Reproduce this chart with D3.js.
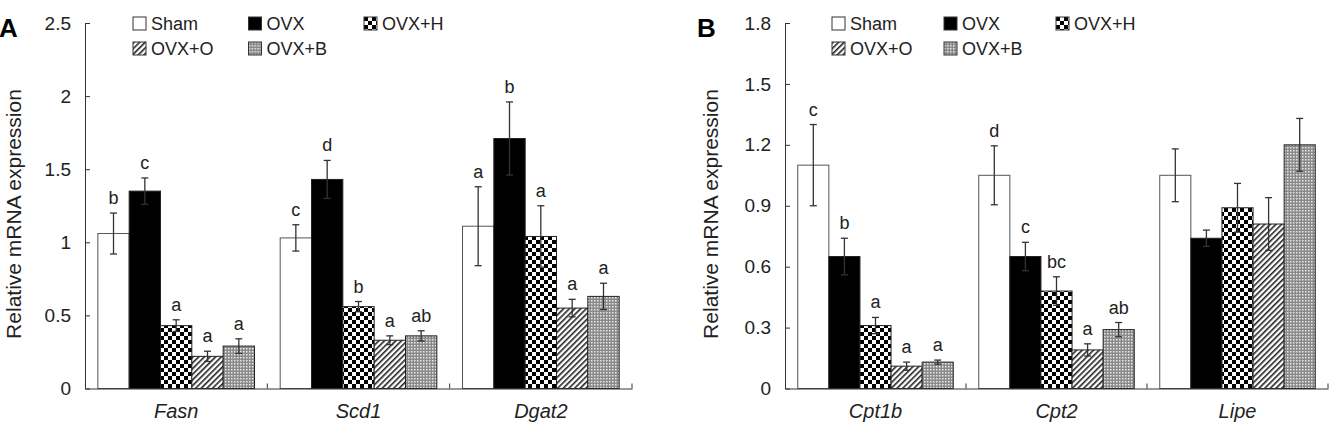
<!DOCTYPE html>
<html>
<head>
<meta charset="utf-8">
<script src="https://cdn.jsdelivr.net/npm/d3@7"></script>
<style>
  body { margin: 0; background: #fff; }
  svg { display: block; font-family: Arial, "Liberation Sans", sans-serif; }
</style>
</head>
<body>
<div id="container"></div>
<script>
// groups (legend order)
var groups = ["Sham", "OVX", "OVX+H", "OVX+O", "OVX+B"];

// panel A genes
var genesA = ["Fasn", "Scd1", "Dgat2"];
var fasnMean = [1.06, 1.35, 0.43, 0.22, 0.29];
var fasnErr = [0.14, 0.09, 0.04, 0.035, 0.05];
var fasnSig = ["b", "c", "a", "a", "a"];
var scd1Mean = [1.03, 1.43, 0.56, 0.33, 0.36];
var scd1Err = [0.09, 0.13, 0.035, 0.03, 0.035];
var scd1Sig = ["c", "d", "b", "a", "ab"];
var dgat2Mean = [1.11, 1.71, 1.04, 0.55, 0.63];
var dgat2Err = [0.27, 0.25, 0.21, 0.06, 0.09];
var dgat2Sig = ["a", "b", "a", "a", "a"];
var ticksA = [0, 0.5, 1, 1.5, 2, 2.5];
var tickLabelsA = ["0", "0.5", "1", "1.5", "2", "2.5"];

// panel B genes
var genesB = ["Cpt1b", "Cpt2", "Lipe"];
var cpt1bMean = [1.10, 0.65, 0.31, 0.11, 0.13];
var cpt1bErr = [0.20, 0.09, 0.04, 0.02, 0.01];
var cpt1bSig = ["c", "b", "a", "a", "a"];
var cpt2Mean = [1.05, 0.65, 0.48, 0.19, 0.29];
var cpt2Err = [0.145, 0.07, 0.07, 0.03, 0.035];
var cpt2Sig = ["d", "c", "bc", "a", "ab"];
var lipeMean = [1.05, 0.74, 0.89, 0.81, 1.20];
var lipeErr = [0.13, 0.04, 0.12, 0.13, 0.13];
var lipeSig = ["", "", "", "", ""];
var ticksB = [0, 0.3, 0.6, 0.9, 1.2, 1.5, 1.8];
var tickLabelsB = ["0", "0.3", "0.6", "0.9", "1.2", "1.5", "1.8"];

var ink = "#222";

var svg = d3.select("#container").append("svg")
    .attr("width", 1330)
    .attr("height", 427);

// fill patterns for the five groups
var defs = svg.append("defs");

var pChk = defs.append("pattern").attr("id", "p-chk")
    .attr("patternUnits", "userSpaceOnUse").attr("width", 8).attr("height", 8);
pChk.append("rect").attr("width", 8).attr("height", 8).attr("fill", "#fff");
pChk.append("rect").attr("width", 4).attr("height", 4).attr("fill", "#000");
pChk.append("rect").attr("x", 4).attr("y", 4).attr("width", 4).attr("height", 4).attr("fill", "#000");

var pHatch = defs.append("pattern").attr("id", "p-hatch")
    .attr("patternUnits", "userSpaceOnUse").attr("width", 4).attr("height", 4)
    .attr("patternTransform", "rotate(45)");
pHatch.append("rect").attr("width", 4).attr("height", 4).attr("fill", "#fff");
pHatch.append("rect").attr("width", 1.6).attr("height", 4).attr("fill", "#222");

var pDot = defs.append("pattern").attr("id", "p-dot")
    .attr("patternUnits", "userSpaceOnUse").attr("width", 3).attr("height", 3);
pDot.append("rect").attr("width", 3).attr("height", 3).attr("fill", "#8a8a8a");
pDot.append("rect").attr("width", 1.5).attr("height", 1.5).attr("fill", "#e8e8e8");

var fills = {
    "Sham": "#fff",
    "OVX": "#000",
    "OVX+H": "url(#p-chk)",
    "OVX+O": "url(#p-hatch)",
    "OVX+B": "url(#p-dot)"
};

function drawPanel(opt) {
    var g = svg.append("g");

    var x = d3.scaleBand().domain(opt.genes).range(opt.xRange).paddingInner(0).paddingOuter(0);
    var xIn = d3.scaleBand().domain(groups).range([0, x.bandwidth()]).paddingInner(0).paddingOuter(0.41);
    var y = d3.scaleLinear().domain([0, opt.max]).range([388.5, 23]);

    // table built from the arrays
    var rows = [];
    opt.genes.forEach(function (gene, gi) {
        groups.forEach(function (grp, k) {
            rows.push({
                gene: gene, group: grp,
                v: opt.means[gi][k], e: opt.errs[gi][k], s: opt.sigs[gi][k]
            });
        });
    });

    // bars
    g.selectAll("rect.bar").data(rows).enter().append("rect")
        .attr("class", "bar")
        .attr("x", function (d) { return x(d.gene) + xIn(d.group); })
        .attr("y", function (d) { return y(d.v); })
        .attr("width", xIn.bandwidth())
        .attr("height", function (d) { return y(0) - y(d.v); })
        .attr("fill", function (d) { return fills[d.group]; })
        .attr("stroke", function (d) { return d.group == "Sham" ? "#555" : "#222"; })
        .attr("stroke-width", 1);

    // error bars
    var eb = g.selectAll("g.err").data(rows).enter().append("g").attr("class", "err")
        .attr("stroke", "#333").attr("stroke-width", 1.3);
    var cx = function (d) { return x(d.gene) + xIn(d.group) + xIn.bandwidth() / 2; };
    eb.append("line")
        .attr("x1", cx).attr("x2", cx)
        .attr("y1", function (d) { return y(d.v - d.e); })
        .attr("y2", function (d) { return y(d.v + d.e); });
    eb.append("line")
        .attr("x1", function (d) { return cx(d) - 3.5; }).attr("x2", function (d) { return cx(d) + 3.5; })
        .attr("y1", function (d) { return y(d.v + d.e); })
        .attr("y2", function (d) { return y(d.v + d.e); });
    eb.append("line")
        .attr("x1", function (d) { return cx(d) - 3.5; }).attr("x2", function (d) { return cx(d) + 3.5; })
        .attr("y1", function (d) { return y(d.v - d.e); })
        .attr("y2", function (d) { return y(d.v - d.e); });

    // significance letters
    g.selectAll("text.sig").data(rows).enter().append("text")
        .attr("class", "sig")
        .attr("x", cx)
        .attr("y", function (d) { return y(d.v + d.e) - 9; })
        .attr("text-anchor", "middle")
        .style("font-size", "18px")
        .attr("fill", ink)
        .text(function (d) { return d.s; });

    // y axis, ticks inside
    var yAxis = g.append("g")
        .attr("transform", "translate(" + opt.xRange[0] + ",0)")
        .call(d3.axisLeft(y).tickValues(opt.ticks).tickSize(-5).tickSizeOuter(0).tickPadding(14)
            .tickFormat(function (d, i) { return opt.tickLabels[i]; }));
    yAxis.selectAll("text").style("font-size", "19px").attr("fill", ink);

    // x axis with category labels
    var xAxis = g.append("g")
        .attr("transform", "translate(0," + y(0) + ")")
        .call(d3.axisBottom(x).tickSize(0).tickSizeOuter(0).tickPadding(15));
    xAxis.selectAll("text").style("font-size", "20px").style("font-style", "italic").attr("fill", ink);
    xAxis.selectAll("path, line").attr("stroke", "#333");
    yAxis.selectAll("path, line").attr("stroke", "#333");

    // boundary ticks between genes
    g.selectAll("line.bound").data(opt.genes).enter().append("line")
        .attr("class", "bound")
        .attr("x1", function (d) { return x(d) + x.bandwidth(); })
        .attr("x2", function (d) { return x(d) + x.bandwidth(); })
        .attr("y1", y(0)).attr("y2", y(0) - 5)
        .attr("stroke", "#333");

    // y title
    g.append("text")
        .attr("transform", "translate(" + opt.titleX + ",214) rotate(-90)")
        .attr("text-anchor", "middle")
        .style("font-size", "21px")
        .attr("fill", ink)
        .text("Relative mRNA expression");

    // panel letter
    g.append("text")
        .attr("x", opt.labelX).attr("y", 37)
        .style("font-size", "26px").style("font-weight", "bold")
        .attr("fill", "#000")
        .text(opt.label);

    // legend, 3 columns x 2 rows
    var leg = g.selectAll("g.leg").data(groups).enter().append("g")
        .attr("class", "leg")
        .attr("transform", function (d, i) {
            return "translate(" + (opt.legX + (i % 3) * opt.legStep) + "," + (i < 3 ? 17 : 42) + ")";
        });
    leg.append("rect").attr("width", 13).attr("height", 13)
        .attr("fill", function (d) { return fills[d]; })
        .attr("stroke", "#333").attr("stroke-width", 1);
    leg.append("text").attr("x", 18).attr("y", 12.5)
        .style("font-size", "18px").attr("fill", ink)
        .text(function (d) { return d; });
}

drawPanel({
    genes: genesA, xRange: [85, 632], max: 2.5,
    means: [fasnMean, scd1Mean, dgat2Mean],
    errs: [fasnErr, scd1Err, dgat2Err],
    sigs: [fasnSig, scd1Sig, dgat2Sig],
    ticks: ticksA, tickLabels: tickLabelsA,
    titleX: 21, label: "A", labelX: -1,
    legX: 133, legStep: 115.5
});

drawPanel({
    genes: genesB, xRange: [785, 1328], max: 1.8,
    means: [cpt1bMean, cpt2Mean, lipeMean],
    errs: [cpt1bErr, cpt2Err, lipeErr],
    sigs: [cpt1bSig, cpt2Sig, lipeSig],
    ticks: ticksB, tickLabels: tickLabelsB,
    titleX: 718, label: "B", labelX: 697,
    legX: 832, legStep: 112
});
</script>
</body>
</html>
